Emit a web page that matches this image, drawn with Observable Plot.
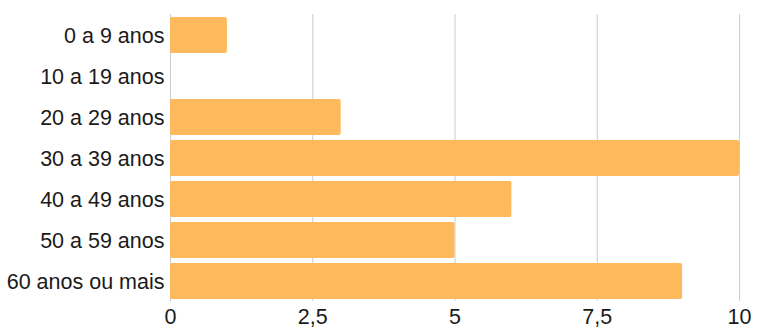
<!DOCTYPE html>
<html>
<head>
<meta charset="utf-8">
<script src="https://cdn.jsdelivr.net/npm/d3@7"></script>
<script src="https://cdn.jsdelivr.net/npm/@observablehq/plot@0.6"></script>
<style>
  html, body { margin: 0; padding: 0; background: #fff; }
  #chart svg { display: block; }
</style>
</head>
<body>
<div id="chart"></div>
<script>
const categories = ["0 a 9 anos", "10 a 19 anos", "20 a 29 anos", "30 a 39 anos", "40 a 49 anos", "50 a 59 anos", "60 anos ou mais"];
const values = [1, 0, 3, 10, 6, 5, 9];
const xTicks = [0, 2.5, 5, 7.5, 10];

const data = categories.map((c, i) => ({category: c, value: values[i]}));
const fmt = d => String(d).replace(".", ",");

const chart = Plot.plot({
  width: 760,
  height: 334,
  marginLeft: 170,
  marginRight: 21,
  marginTop: 14,
  marginBottom: 33,
  style: {fontFamily: "'Liberation Sans', Arial, sans-serif", fontSize: "21.5px", color: "#1a1a1a", background: "#fff"},
  x: {domain: [0, 10], ticks: xTicks, tickFormat: fmt, tickSize: 0, tickPadding: 7, label: null},
  y: {domain: categories, paddingInner: 0.13, paddingOuter: 0.03, tickSize: 0, tickPadding: 6, label: null},
  marks: [
    Plot.ruleX(xTicks, {stroke: "#cccccc", strokeWidth: 1}),
    Plot.barX(data.filter(d => d.value > 0), {x: "value", y: "category", fill: "#fdb95b", rx: 2}),
    Plot.axisX({ticks: xTicks, tickFormat: fmt, tickSize: 0, tickPadding: 7, fontSize: 21.5, label: null}),
    Plot.axisY({tickSize: 0, tickPadding: 6, fontSize: 21.5, dy: 1, label: null})
  ]
});
document.getElementById("chart").append(chart);
</script>
</body>
</html>
